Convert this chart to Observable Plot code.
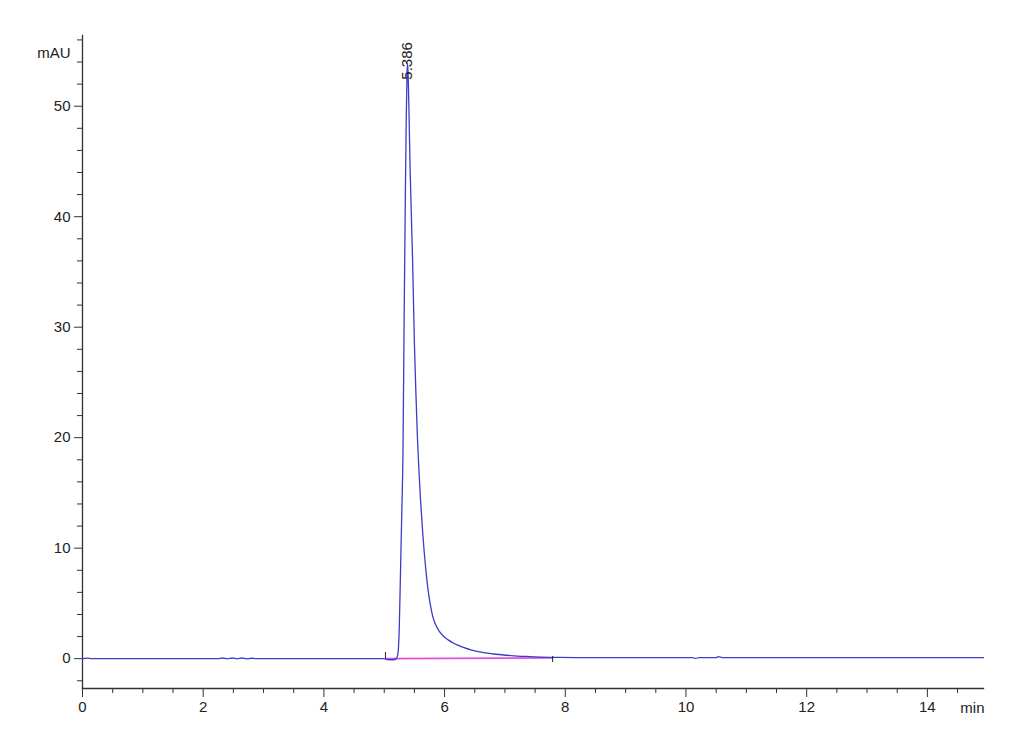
<!DOCTYPE html>
<html>
<head>
<meta charset="utf-8">
<script src="https://cdn.jsdelivr.net/npm/d3@7"></script>
<script src="https://cdn.jsdelivr.net/npm/@observablehq/plot@0.6"></script>
<style>
  html, body { margin: 0; padding: 0; background: #ffffff; }
</style>
</head>
<body>
<div id="chart"></div>
<script>
// Chromatogram signal (time in min, absorbance in mAU)
const time = [0, 0.08, 0.15, 2.25, 2.32, 2.4, 2.48, 2.56, 2.64, 2.72, 2.8, 2.88,
  5.0, 5.05, 5.15, 5.2, 5.23, 5.25, 5.27, 5.29, 5.31, 5.33, 5.35, 5.365, 5.378, 5.386,
  5.395, 5.41, 5.43, 5.45, 5.47, 5.5, 5.525, 5.55, 5.575, 5.6, 5.64, 5.68, 5.72, 5.76,
  5.8, 5.85, 5.91, 5.98, 6.06, 6.15, 6.3, 6.45, 6.65, 6.85, 7.1, 7.35, 7.6, 7.9, 8.5,
  10.1, 10.16, 10.22, 10.5, 10.54, 10.6, 14.93];
const signal = [0, 0.05, 0, 0, 0.06, -0.02, 0.06, -0.02, 0.06, -0.02, 0.04, 0,
  0, -0.08, -0.1, -0.02, 0.6, 3, 8, 13, 18.5, 31, 42, 49, 53, 53.9,
  53, 49.5, 44, 40, 36, 28.5, 24, 20, 17, 14.5, 11.2, 8.6, 6.5, 5.0,
  3.9, 3.1, 2.5, 2.05, 1.7, 1.4, 1.05, 0.78, 0.55, 0.4, 0.28, 0.2, 0.14, 0.11, 0.1,
  0.1, 0.02, 0.1, 0.1, 0.18, 0.1, 0.1];

// Integration baseline (start / end)
const baseTime = [5.02, 7.79];
const baseSignal = [0.0, 0.07];

// Peak annotation
const peakTime = [5.386];
const peakLabelY = [52.4];
const peakLabel = ["5.386"];

// Axis ticks
const xMajorTicks = [0, 2, 4, 6, 8, 10, 12, 14];
const xMinorTicks = [0.5, 1, 1.5, 2.5, 3, 3.5, 4.5, 5, 5.5, 6.5, 7, 7.5, 8.5, 9, 9.5,
  10.5, 11, 11.5, 12.5, 13, 13.5, 14.5];
const yMajorTicks = [0, 10, 20, 30, 40, 50];
const yMinorTicks = [-2, 2, 4, 6, 8, 12, 14, 16, 18, 22, 24, 26, 28, 32, 34, 36, 38,
  42, 44, 46, 48, 52, 54, 56];

const trace = time.map((t, i) => ({t, v: signal[i]}));
const peaks = peakTime.map((t, i) => ({t, v: peakLabelY[i], label: peakLabel[i]}));
const base = baseTime.map((t, i) => ({t, v: baseSignal[i]}));
const markers = [
  {t: baseTime[0], y1: 0, y2: 0.55},
  {t: baseTime[1], y1: 0.2, y2: -0.35}
];

const axisColor = "#333333";
const font = "'Liberation Sans', Arial, sans-serif";

const chart = Plot.plot({
  width: 985,
  height: 755,
  marginLeft: 82,
  marginRight: 2,
  marginTop: 35,
  marginBottom: 67,
  x: {domain: [0, 14.93], label: null},
  y: {domain: [-2.7, 56.4], label: null},
  style: {fontFamily: font, fontSize: "15px", background: "#ffffff", color: "#222"},
  marks: [
    Plot.axisY({ticks: yMinorTicks, tickSize: 5, tickFormat: () => "", stroke: axisColor, label: null}),
    Plot.axisY({ticks: yMajorTicks, tickSize: 8, tickPadding: 4, stroke: axisColor, label: null, fill: "#222"}),
    Plot.axisX({ticks: xMinorTicks, tickSize: 5, tickFormat: () => "", stroke: axisColor, label: null}),
    Plot.axisX({ticks: xMajorTicks, tickSize: 9, tickPadding: 4, stroke: axisColor, label: null, fill: "#222"}),
    Plot.frame({anchor: "left", stroke: axisColor, strokeWidth: 1.3}),
    Plot.frame({anchor: "bottom", stroke: axisColor, strokeWidth: 1.3}),
    Plot.line(base, {x: "t", y: "v", stroke: "#e050e0", strokeWidth: 1.6}),
    Plot.line(trace, {x: "t", y: "v", stroke: "#3c3cc8", strokeWidth: 1.3, curve: "monotone-x"}),
    Plot.ruleX(markers, {x: "t", y1: "y1", y2: "y2", stroke: "#222", strokeWidth: 1}),
    Plot.text(peaks, {x: "t", y: "v", text: "label", rotate: -90, textAnchor: "start", fill: "#222", fontSize: 15}),
    Plot.text(["mAU"], {frameAnchor: "top-left", textAnchor: "end", dx: -12, dy: 12, fill: "#222"}),
    Plot.text(["min"], {frameAnchor: "bottom-right", textAnchor: "end", dx: 1, dy: 24, fill: "#222"})
  ]
});
document.getElementById("chart").appendChild(chart);
</script>
</body>
</html>
